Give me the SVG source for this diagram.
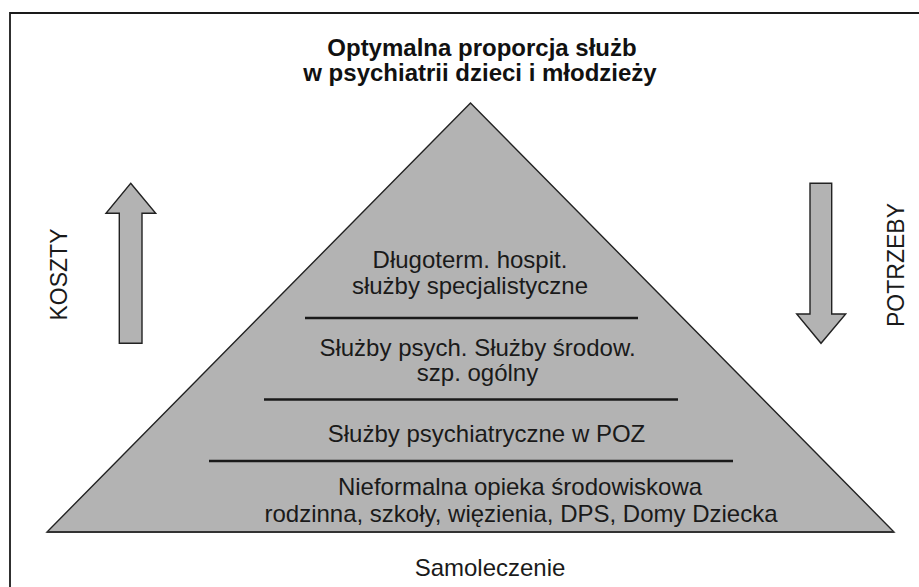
<svg xmlns="http://www.w3.org/2000/svg" width="919" height="587" viewBox="0 0 919 587">
<style>
.t{font-family:"Liberation Sans",Arial,sans-serif;font-size:24px;fill:#1a1a1a;text-anchor:middle}
.b{font-weight:bold;fill:#111}
.shape{fill:#b3b3b3;stroke:#222;stroke-width:1.4;stroke-linejoin:miter}
.div{stroke:#1a1a1a;stroke-width:2.6;fill:none}
</style>
<rect width="919" height="587" fill="#fff"/>
<path d="M10,600 V13 H930" fill="none" stroke="#1a1a1a" stroke-width="1.8"/>
<g id="title">
<text class="t b" x="482" y="56">Optymalna proporcja służb</text>
<text class="t b" x="480" y="81">w psychiatrii dzieci i młodzieży</text>
</g>
<g id="pyramid">
<polygon class="shape" points="470.5,103 47,532 894,532"/>
<line x1="47" y1="532" x2="894" y2="532" stroke="#333" stroke-width="2"/>
</g>
<g id="connectors">
<line class="div" x1="305" y1="318" x2="638" y2="318"/>
<line class="div" x1="264" y1="399.5" x2="678" y2="399.5"/>
<line class="div" x1="209" y1="461" x2="733" y2="461"/>
</g>
<g id="level1">
<text class="t" x="470" y="268">Długoterm. hospit.</text>
<text class="t" x="470" y="294">służby specjalistyczne</text>
</g>
<g id="level2">
<text class="t" x="477.5" y="356">Służby psych. Służby środow.</text>
<text class="t" x="477.5" y="381">szp. ogólny</text>
</g>
<g id="level3">
<text class="t" x="486.5" y="442">Służby psychiatryczne w POZ</text>
</g>
<g id="level4">
<text class="t" x="520" y="495">Nieformalna opieka środowiskowa</text>
<text class="t" x="521" y="522">rodzinna, szkoły, więzienia, DPS, Domy Dziecka</text>
</g>
<g id="samoleczenie">
<text class="t" x="490" y="576">Samoleczenie</text>
</g>
<g id="koszty">
<polygon class="shape" points="130.7,183.3 155.7,213.3 142,213.3 142,343.3 119.3,343.3 119.3,213.3 106,213.3"/>
<text class="t" font-size="23" style="font-size:23px" transform="translate(67,274.5) rotate(-90)">KOSZTY</text>
</g>
<g id="potrzeby">
<polygon class="shape" points="810,183.3 831.7,183.3 831.7,314 845.7,314 821,343.3 796.7,314 810,314"/>
<text class="t" style="font-size:23px" transform="translate(904,265) rotate(-90)">POTRZEBY</text>
</g>
</svg>
